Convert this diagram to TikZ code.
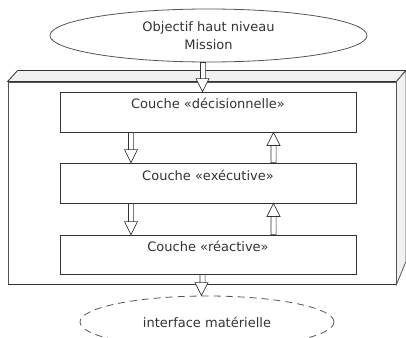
\documentclass[tikz,border=0pt]{standalone}
\usepackage{fontspec}
\setmainfont{DejaVu Sans}
\usetikzlibrary{calc,shapes.geometric}
\definecolor{ink}{HTML}{333333}
\definecolor{edge}{HTML}{555555}
\definecolor{face}{HTML}{F1F1F1}
\newcommand\BlkArrow[2]{%
  \draw[blk] let \p1=(#1), \p2=(#2), \n1={sign(\y2-\y1)} in
    (\x1-2.6pt,\y1) rectangle (\x1+2.6pt,\y2-13pt*\n1)
    (\x2-6.5pt,\y2-13pt*\n1) -- (\x2,\y2) -- (\x2+6.5pt,\y2-13pt*\n1) -- cycle;}
\begin{document}
\begin{tikzpicture}[x=1pt,y=-1pt,
  lbl/.style={text=ink,font=\fontsize{13}{18}\selectfont,align=center,inner sep=0pt},
  layer/.style={draw=ink,fill=white,line width=0.8pt,minimum width=296pt,inner sep=0pt},
  blk/.style={draw=ink,fill=white,line width=0.7pt,line join=miter},
  oval/.style={ellipse,draw=edge,line width=0.8pt,fill=white,inner sep=0pt}]
\useasboundingbox (0,0) rectangle (406,337);
% outer 3D frame
\node[draw=edge,line width=0.9pt,fill=white,minimum width=388pt,minimum height=202pt,inner sep=0pt] (outer) at (202,183) {};
\draw[draw=ink,fill=face,line width=0.8pt] (outer.north west) -- ++(10,-11) -- ++(388,0) -- (outer.north east) -- cycle;
\draw[draw=edge,fill=face,line width=0.8pt] (outer.north east) -- ++(9.5,-11) -- ++(0,191) -- (outer.south east) -- cycle;
\draw[draw=ink,line width=0.9pt] (outer.south west) -- (outer.south east);
% ellipses
\node[oval,minimum width=317pt,minimum height=53pt] (goal) at (208.5,35.5) {};
\node[lbl] (goaltxt) at (208.5,36) {Objectif haut niveau\\Mission};
\node[oval,dashed,dash pattern=on 7pt off 5pt,draw=edge,minimum width=254pt,minimum height=52pt] (hw) at (207,322) {};
\node[lbl] (hwtxt) at (207,322) {interface matérielle};
% layers
\node[layer,minimum height=40pt] (l1) at (208,112) {};
\node[lbl] (l1t) at (208,103) {Couche «décisionnelle»};
\node[layer,minimum height=40pt] (l2) at (208,183) {};
\node[lbl] (l2t) at (208,175) {Couche «exécutive»};
\node[layer,minimum height=39pt] (l3) at (208,254.5) {};
\node[lbl] (l3t) at (208,246) {Couche «réactive»};
% arrows
\BlkArrow{[xshift=-5.5pt]goal.south}{[xshift=-5.5pt]l1.north}
\BlkArrow{[xshift=-77pt]l1.south}{[xshift=-77pt]l2.north}
\BlkArrow{[xshift=65.5pt]l2.north}{[xshift=65.5pt]l1.south}
\BlkArrow{[xshift=-77pt]l2.south}{[xshift=-77pt]l3.north}
\BlkArrow{[xshift=65.5pt]l3.north}{[xshift=65.5pt]l2.south}
\BlkArrow{[xshift=-5.5pt]l3.south}{[xshift=-5.5pt]hw.north}
\end{tikzpicture}
\end{document}
